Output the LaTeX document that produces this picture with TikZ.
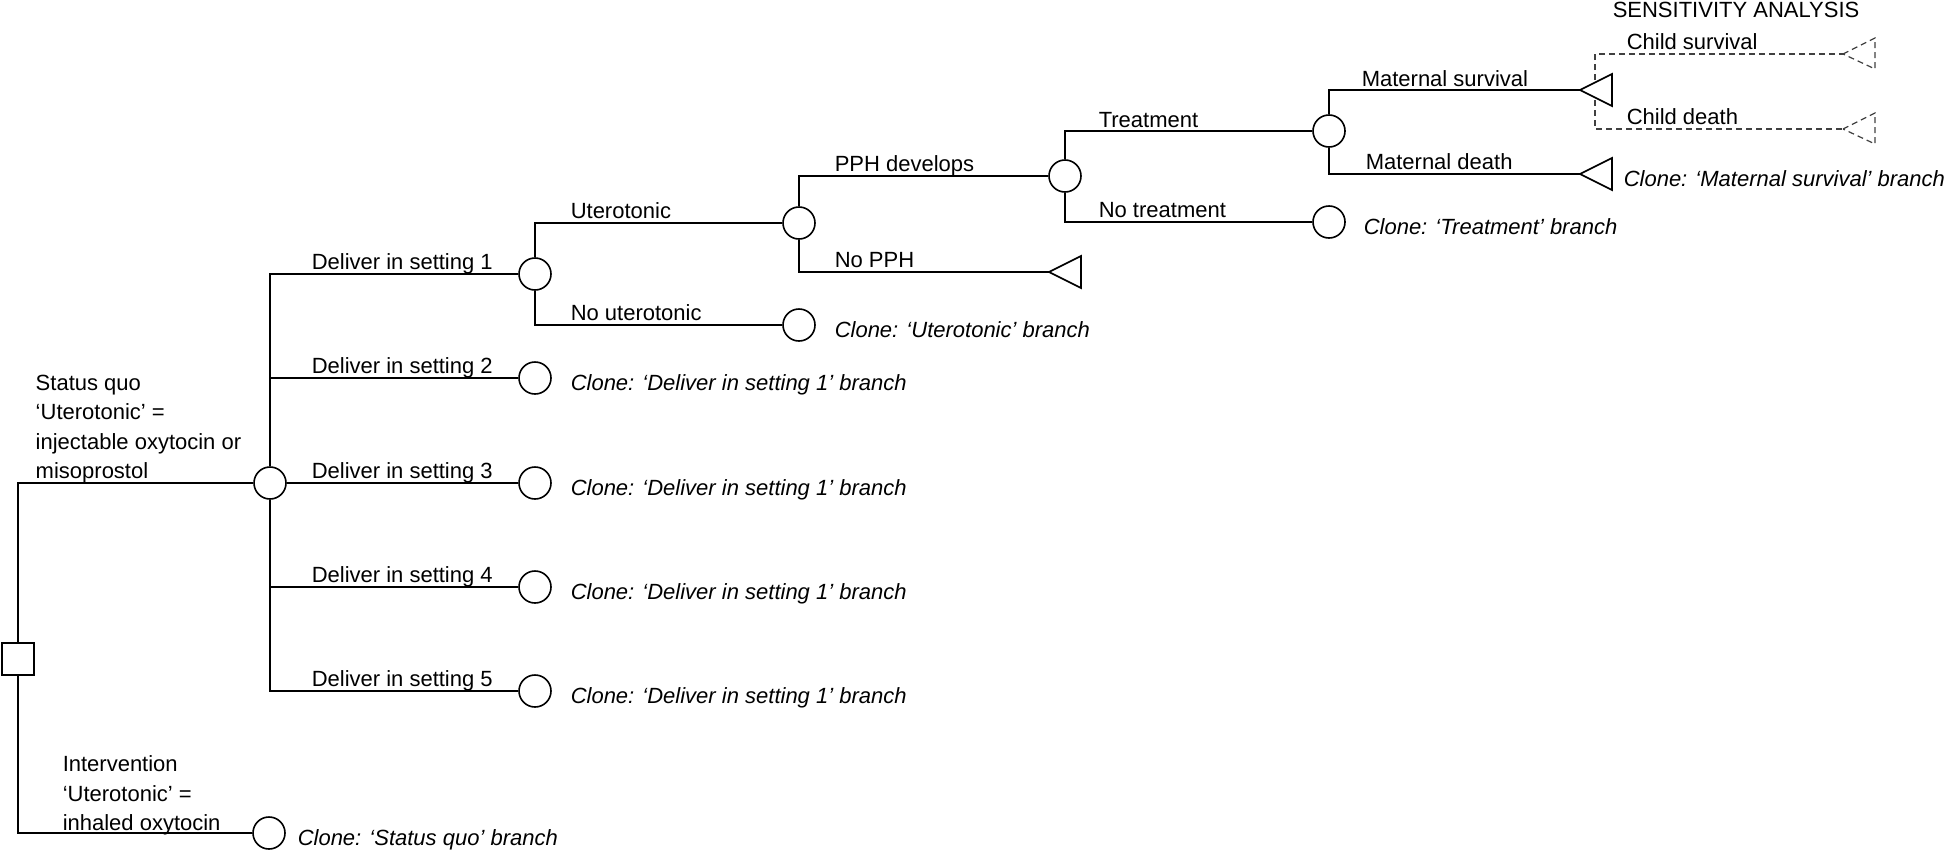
\documentclass[tikz,border=0pt]{standalone}
\usepackage{fontspec}
\setmainfont{Liberation Sans}
\begin{document}
\begin{tikzpicture}[x=0.5pt,y=-0.5pt, line width=0.75pt,
 every node/.style={font=\fontsize{11pt}{14.75pt}\selectfont, inner sep=0pt},
 chance/.style={draw, circle, minimum size=16pt, line width=0.8pt, fill=white},
 decis/.style={draw, rectangle, minimum size=16pt, line width=0.8pt, fill=white},
 lbl/.style={anchor=base west},
 clone/.style={anchor=base west, font=\fontsize{11pt}{14.75pt}\selectfont\itshape},
 tri/.style={line width=0.8pt, fill=white},
 dtri/.style={dash pattern=on 3pt off 2pt, line width=0.6pt, black!75}
]
\useasboundingbox (0,0) rectangle (1946,851);

% nodes
\node[decis] (sq) at (18,659) {};
\node[chance] (S1) at (270,483) {};
\node[chance] (I1) at (269,833) {};
\node[chance] (D1) at (535,274) {};
\node[chance] (D2) at (535,378) {};
\node[chance] (D3) at (535,483) {};
\node[chance] (D4) at (535,587) {};
\node[chance] (D5) at (535,691) {};
\node[chance] (U) at (799,223) {};
\node[chance] (NU) at (799,325) {};
\node[chance] (P) at (1065,176) {};
\coordinate (NP) at (1049,272);
\node[chance] (T) at (1329,131) {};
\node[chance] (NT) at (1329,222) {};
\coordinate (MS) at (1580,90);
\coordinate (MD) at (1580,174);
\coordinate (MSb) at (1595,90);
\coordinate (CS) at (1843,54);
\coordinate (CD) at (1843,129);

% connectors
\draw (sq.north) |- (S1.west);
\draw (sq.south) |- (I1.west);
\draw (S1.north) |- (D1.west);
\draw (S1.north) |- (D2.west);
\draw (S1.east) -- (D3.west);
\draw (S1.south) |- (D4.west);
\draw (S1.south) |- (D5.west);
\draw (D1.north) |- (U.west);
\draw (D1.south) |- (NU.west);
\draw (U.north) |- (P.west);
\draw (U.south) |- (NP);
\draw (P.north) |- (T.west);
\draw (P.south) |- (NT.west);
\draw (T.north) |- (MS);
\draw (T.south) |- (MD);

% sensitivity analysis (dashed)
\draw[dtri] (MSb) |- (CS);
\draw[dtri] (MSb) |- (CD);
\draw[dtri] (CS) -- ++(32,-16) -- ++(0,31) -- cycle;
\draw[dtri] (CD) -- ++(32,-16) -- ++(0,31) -- cycle;

% terminal triangles
\draw[tri] (NP) -- ++(32,-16) -- ++(0,32) -- cycle;
\draw[tri] (MS) -- ++(32,-16) -- ++(0,32) -- cycle;
\draw[tri] (MD) -- ++(32,-16) -- ++(0,32) -- cycle;

% branch labels
\node[anchor=south west, align=left] (lSQ) at (35,484) {Status quo\\‘Uterotonic’ =\\injectable oxytocin or\\misoprostol};
\node[anchor=south west, align=left] (lIV) at (62,836) {Intervention\\‘Uterotonic’ =\\inhaled oxytocin};
\node[lbl] (l1) at (311,269) {Deliver in setting 1};
\node[lbl] (l2) at (311,373) {Deliver in setting 2};
\node[lbl] (l3) at (311,478) {Deliver in setting 3};
\node[lbl] (l4) at (311,582) {Deliver in setting 4};
\node[lbl] (l5) at (311,686) {Deliver in setting 5};
\node[lbl] (lU) at (570,218) {Uterotonic};
\node[lbl] (lNU) at (570,320) {No uterotonic};
\node[lbl] (lP) at (834,171) {PPH develops};
\node[lbl] (lNP) at (834,267) {No PPH};
\node[lbl] (lT) at (1098,127) {Treatment};
\node[lbl] (lNT) at (1098,217) {No treatment};
\node[lbl] (lMS) at (1361,86) {Maternal survival};
\node[lbl] (lMD) at (1365,169) {Maternal death};
\node[lbl] (lCS) at (1626,49) {Child survival};
\node[lbl] (lCD) at (1626,124) {Child death};
\node[anchor=base] (lSA) at (1736,18) {SENSITIVITY ANALYSIS};

% clone labels
\node[clone] (c1) at (570,390) {Clone: ‘Deliver in setting 1’ branch};
\node[clone] (c2) at (570,495) {Clone: ‘Deliver in setting 1’ branch};
\node[clone] (c3) at (570,599) {Clone: ‘Deliver in setting 1’ branch};
\node[clone] (c4) at (570,703) {Clone: ‘Deliver in setting 1’ branch};
\node[clone] (cU) at (834,337) {Clone: ‘Uterotonic’ branch};
\node[clone] (cT) at (1363,234) {Clone: ‘Treatment’ branch};
\node[clone] (cM) at (1623,186) {Clone: ‘Maternal survival’ branch};
\node[clone] (cS) at (297,845) {Clone: ‘Status quo’ branch};
\end{tikzpicture}
\end{document}
